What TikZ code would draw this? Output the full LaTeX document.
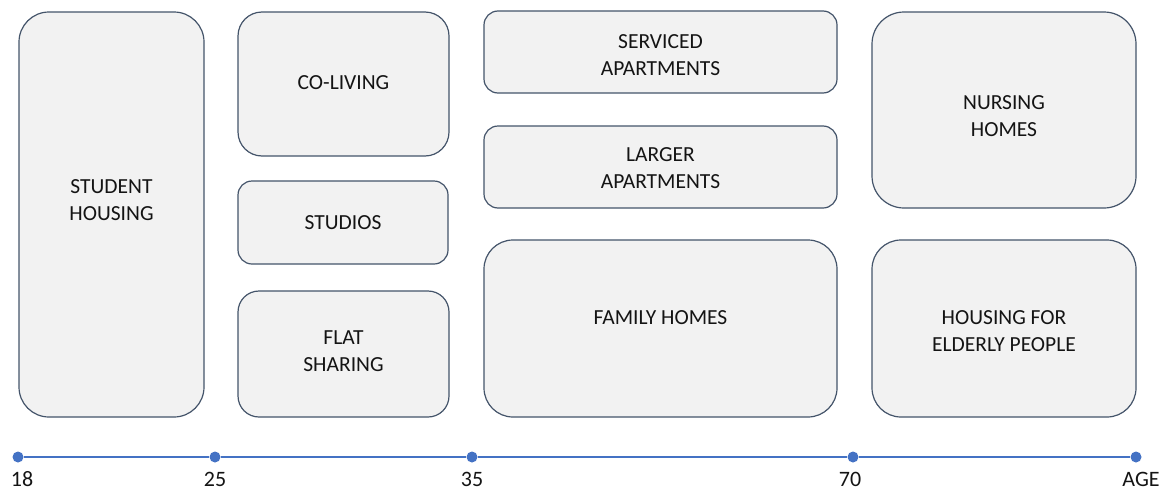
\documentclass[tikz,border=0pt]{standalone}
\usepackage{fontspec}
\setmainfont{Carlito}
\usetikzlibrary{positioning}
\definecolor{boxfill}{HTML}{F2F2F2}
\definecolor{boxline}{HTML}{44546A}
\definecolor{axisblue}{HTML}{4472C4}
\tikzset{
  housing/.style={draw=boxline, fill=boxfill, line width=1.2pt, rounded corners=#1, inner sep=0pt},
  txt/.style={align=center, text=black!92, font=\fontsize{21.5}{27}\selectfont, inner sep=0pt},
  dot/.style={circle, fill=axisblue, inner sep=0pt, minimum size=11pt},
  axis/.style={draw=axisblue, line width=1.1pt},
  agelbl/.style={text=black!92, font=\fontsize{22}{26}\selectfont, inner sep=0pt, anchor=base}
}
\begin{document}
\begin{tikzpicture}[x=1pt, y=-1pt]
  \useasboundingbox (0,0) rectangle (1169,490);
  % housing types by life stage
  \node[housing=30pt, minimum width=185pt, minimum height=405pt,
    label={[txt, yshift=14.5pt]center:STUDENT\\HOUSING}] (student) at (111.5,214.5) {};
  \node[housing=24pt, minimum width=211pt, minimum height=144pt,
    label={[txt, yshift=1pt]center:CO-LIVING}] (coliving) at (343.5,84) {};
  \node[housing=14pt, minimum width=210pt, minimum height=83pt,
    label={[txt]center:STUDIOS}] (studios) at (343,222.5) {};
  \node[housing=21pt, minimum width=211pt, minimum height=126pt,
    label={[txt, yshift=2.5pt]center:FLAT\\SHARING}] (flatshare) at (343.5,354) {};
  \node[housing=14pt, minimum width=353pt, minimum height=82pt,
    label={[txt, yshift=-3.5pt]center:SERVICED\\APARTMENTS}] (serviced) at (660.5,52) {};
  \node[housing=14pt, minimum width=353pt, minimum height=82pt,
    label={[txt, yshift=-1pt]center:LARGER\\APARTMENTS}] (larger) at (660.5,167) {};
  \node[housing=29pt, minimum width=353pt, minimum height=177pt,
    label={[txt, yshift=10.5pt]center:FAMILY HOMES}] (family) at (660.5,328.5) {};
  \node[housing=32pt, minimum width=264pt, minimum height=196pt,
    label={[txt, yshift=-6.5pt]center:NURSING\\HOMES}] (nursing) at (1004,110) {};
  \node[housing=29pt, minimum width=264pt, minimum height=177pt,
    label={[txt, yshift=-3pt]center:HOUSING FOR\\ELDERLY PEOPLE}] (elderly) at (1004,328.5) {};

  % age axis
  \node[dot] (a18) at (18,457) {};
  \node[dot] (a25) at (215,457) {};
  \node[dot] (a35) at (472,457) {};
  \node[dot] (a70) at (853,457) {};
  \node[dot] (aend) at (1136,457) {};
  \draw[axis] (a18) -- (a25) -- (a35) -- (a70) -- (aend);
  \node[agelbl] (l18) at (22,486) {18};
  \node[agelbl] (l25) at (215,486) {25};
  \node[agelbl] (l35) at (472,486) {35};
  \node[agelbl] (l70) at (850,486) {70};
  \node[agelbl] (lage) at (1141,486) {AGE};
\end{tikzpicture}
\end{document}
